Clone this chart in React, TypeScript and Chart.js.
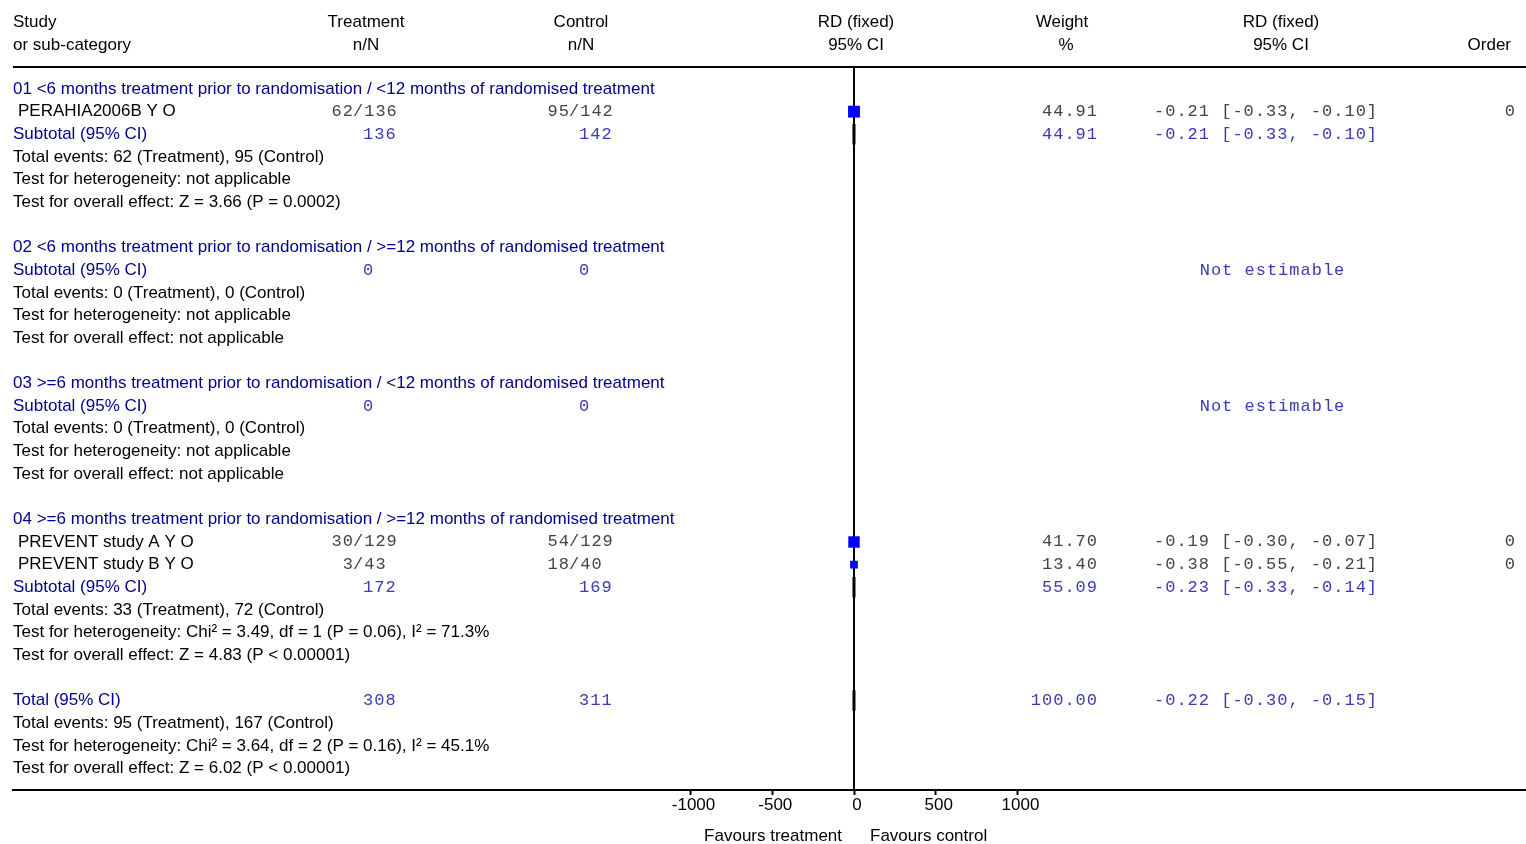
import React, { useEffect, useRef } from "react";
import { Chart, registerables } from "chart.js";

Chart.register(...registerables);

// ---------- data ----------
const groupTitles = [
  "01 <6 months treatment prior to randomisation / <12 months of randomised treatment",
  "02 <6 months treatment prior to randomisation / >=12 months of randomised treatment",
  "03 >=6 months treatment prior to randomisation / <12 months of randomised treatment",
  "04 >=6 months treatment prior to randomisation / >=12 months of randomised treatment",
];
const studyNames = ["PERAHIA2006B Y O", "PREVENT study A Y O", "PREVENT study B Y O"];
const studyGroup = [0, 3, 3];
const studyTreatEvents = [62, 30, 3];
const studyTreatTotal = [136, 129, 43];
const studyCtrlEvents = [95, 54, 18];
const studyCtrlTotal = [142, 129, 40];
const studyWeight = [44.91, 41.7, 13.4];
const studyRD = [-0.21, -0.19, -0.38];
const studyLo = [-0.33, -0.3, -0.55];
const studyHi = [-0.1, -0.07, -0.21];
const studyOrder = [0, 0, 0];

const subTreatTotal = [136, 0, 0, 172];
const subCtrlTotal = [142, 0, 0, 169];
const subWeight: (number | null)[] = [44.91, null, null, 55.09];
const subRD: (number | null)[] = [-0.21, null, null, -0.23];
const subLo: (number | null)[] = [-0.33, null, null, -0.33];
const subHi: (number | null)[] = [-0.1, null, null, -0.14];
const subEvents = [
  "Total events: 62 (Treatment), 95 (Control)",
  "Total events: 0 (Treatment), 0 (Control)",
  "Total events: 0 (Treatment), 0 (Control)",
  "Total events: 33 (Treatment), 72 (Control)",
];
const subHet = [
  "Test for heterogeneity: not applicable",
  "Test for heterogeneity: not applicable",
  "Test for heterogeneity: not applicable",
  "Test for heterogeneity: Chi² = 3.49, df = 1 (P = 0.06), I² = 71.3%",
];
const subEffect = [
  "Test for overall effect: Z = 3.66 (P = 0.0002)",
  "Test for overall effect: not applicable",
  "Test for overall effect: not applicable",
  "Test for overall effect: Z = 4.83 (P < 0.00001)",
];

const totalTreat = 308;
const totalCtrl = 311;
const totalWeight = 100.0;
const totalRD = -0.22;
const totalLo = -0.3;
const totalHi = -0.15;
const totalLines = [
  "Total events: 95 (Treatment), 167 (Control)",
  "Test for heterogeneity: Chi² = 3.64, df = 2 (P = 0.16), I² = 45.1%",
  "Test for overall effect: Z = 6.02 (P < 0.00001)",
];

const xTicks = [-1000, -500, 0, 500, 1000];
const favourLeft = "Favours treatment";
const favourRight = "Favours control";

// ---------- layout of rows ----------
type Row = { kind: string; idx: number; row: number };
function buildRows(): Row[] {
  const rows: Row[] = [];
  let r = 0;
  for (let g = 0; g < groupTitles.length; g++) {
    rows.push({ kind: "title", idx: g, row: r++ });
    studyNames.forEach((_, i) => {
      if (studyGroup[i] === g) rows.push({ kind: "study", idx: i, row: r++ });
    });
    rows.push({ kind: "sub", idx: g, row: r++ });
    rows.push({ kind: "events", idx: g, row: r++ });
    rows.push({ kind: "het", idx: g, row: r++ });
    rows.push({ kind: "effect", idx: g, row: r++ });
    r++;
  }
  rows.push({ kind: "total", idx: 0, row: r++ });
  totalLines.forEach((_, i) => rows.push({ kind: "totline", idx: i, row: r++ }));
  return rows;
}
const rows = buildRows();

const fmtCI = (e: number, lo: number, hi: number) =>
  `${e.toFixed(2)} [${lo.toFixed(2)}, ${hi.toFixed(2)}]`;

const SANS = "'Liberation Sans', Arial, sans-serif";
const MONO = "'Liberation Mono', 'Courier New', monospace";
const BLUE = "#00008b";
const MBLUE = "#3a3ab4";
const GREY = "#444444";

export default function App() {
  const ref = useRef<HTMLCanvasElement | null>(null);

  useEffect(() => {
    const canvas = ref.current;
    if (!canvas) return;

    const studyPoints = studyNames.map((_, i) => {
      const r = rows.find((o) => o.kind === "study" && o.idx === i)!.row;
      return { x: studyRD[i], y: r };
    });
    const studyRadius = studyWeight.map((w) => (6 + 0.13 * w) / Math.SQRT2);

    const textPlugin = {
      id: "forestText",
      beforeDatasetsDraw(chart: any) {
        const { ctx, chartArea, scales } = chart;
        const xs = scales.x;
        const ys = scales.y;
        ctx.save();
        ctx.strokeStyle = "#000";
        ctx.lineWidth = 2;
        ctx.beginPath();
        ctx.moveTo(chartArea.left, chartArea.top);
        ctx.lineTo(chartArea.right, chartArea.top);
        ctx.stroke();
        const x0 = Math.round(xs.getPixelForValue(0));
        ctx.beginPath();
        ctx.moveTo(x0, chartArea.top);
        ctx.lineTo(x0, chartArea.bottom);
        ctx.stroke();
        ctx.lineWidth = 1;
        studyNames.forEach((_, i) => {
          const r = rows.find((o) => o.kind === "study" && o.idx === i)!.row;
          const py = ys.getPixelForValue(r);
          ctx.beginPath();
          ctx.moveTo(xs.getPixelForValue(studyLo[i]), py);
          ctx.lineTo(xs.getPixelForValue(studyHi[i]), py);
          ctx.stroke();
        });
        const diamond = (r: number, e: number, lo: number, hi: number) => {
          ctx.beginPath();
          ctx.moveTo(xs.getPixelForValue(lo), ys.getPixelForValue(r));
          ctx.lineTo(xs.getPixelForValue(e), ys.getPixelForValue(r - 0.45));
          ctx.lineTo(xs.getPixelForValue(hi), ys.getPixelForValue(r));
          ctx.lineTo(xs.getPixelForValue(e), ys.getPixelForValue(r + 0.45));
          ctx.closePath();
          ctx.fillStyle = "#000";
          ctx.fill();
          ctx.lineWidth = 3;
          ctx.stroke();
        };
        rows.forEach((o) => {
          if (o.kind === "sub" && subRD[o.idx] !== null)
            diamond(o.row, subRD[o.idx]!, subLo[o.idx]!, subHi[o.idx]!);
          if (o.kind === "total") diamond(o.row, totalRD, totalLo, totalHi);
        });
        ctx.restore();
      },
      afterDraw(chart: any) {
        const { ctx, scales, chartArea } = chart;
        const ys = scales.y;
        const t = (s: string, x: number, y: number, align: string, font: string, color: string, ls = "0px") => {
          ctx.font = font;
          ctx.fillStyle = color;
          ctx.textAlign = align;
          ctx.textBaseline = "middle";
          (ctx as any).letterSpacing = ls;
          ctx.fillText(s, x, y);
          (ctx as any).letterSpacing = "0px";
        };
        const sans = `17px ${SANS}`;
        const mono = `17px ${MONO}`;
        const LSV = 1.0;
        const m = (s: string, x: number, y: number, align: string, color: string) => {
          const dx = align === "right" ? LSV : align === "center" ? LSV / 2 : 0;
          t(s, x + dx, y, align, mono, color, `${LSV}px`);
        };
        ctx.save();
        t("Study", 13, 22, "left", sans, "#000");
        t("or sub-category", 13, 45, "left", sans, "#000");
        t("Treatment", 366, 22, "center", sans, "#000");
        t("n/N", 366, 45, "center", sans, "#000");
        t("Control", 581, 22, "center", sans, "#000");
        t("n/N", 581, 45, "center", sans, "#000");
        t("RD (fixed)", 856, 22, "center", sans, "#000");
        t("95% CI", 856, 45, "center", sans, "#000");
        t("Weight", 1062, 22, "center", sans, "#000");
        t("%", 1066, 45, "center", sans, "#000");
        t("RD (fixed)", 1281, 22, "center", sans, "#000");
        t("95% CI", 1281, 45, "center", sans, "#000");
        t("Order", 1511, 45, "right", sans, "#000");

        const tSlash = 353;
        const cSlash = 569;
        rows.forEach((o) => {
          const y = ys.getPixelForValue(o.row);
          if (o.kind === "title") t(groupTitles[o.idx], 13, y, "left", sans, BLUE);
          else if (o.kind === "study") {
            const i = o.idx;
            t(studyNames[i], 18, y, "left", sans, "#000");
            m(String(studyTreatEvents[i]), tSlash, y, "right", GREY);
            m("/" + studyTreatTotal[i], tSlash, y, "left", GREY);
            m(String(studyCtrlEvents[i]), cSlash, y, "right", GREY);
            m("/" + studyCtrlTotal[i], cSlash, y, "left", GREY);
            m(studyWeight[i].toFixed(2), 1097, y, "right", GREY);
            m(fmtCI(studyRD[i], studyLo[i], studyHi[i]), 1154, y, "left", GREY);
            m(String(studyOrder[i]), 1515, y, "right", GREY);
          } else if (o.kind === "sub") {
            const g = o.idx;
            t("Subtotal (95% CI)", 13, y, "left", sans, BLUE);
            m(String(subTreatTotal[g]), tSlash + 10, y, "left", MBLUE);
            m(String(subCtrlTotal[g]), cSlash + 10, y, "left", MBLUE);
            if (subRD[g] !== null) {
              m(subWeight[g]!.toFixed(2), 1097, y, "right", MBLUE);
              m(fmtCI(subRD[g]!, subLo[g]!, subHi[g]!), 1154, y, "left", MBLUE);
            } else {
              m("Not estimable", 1272, y, "center", MBLUE);
            }
          } else if (o.kind === "events") t(subEvents[o.idx], 13, y, "left", sans, "#000");
          else if (o.kind === "het") t(subHet[o.idx], 13, y, "left", sans, "#000");
          else if (o.kind === "effect") t(subEffect[o.idx], 13, y, "left", sans, "#000");
          else if (o.kind === "total") {
            t("Total (95% CI)", 13, y, "left", sans, BLUE);
            m(String(totalTreat), tSlash + 10, y, "left", MBLUE);
            m(String(totalCtrl), cSlash + 10, y, "left", MBLUE);
            m(totalWeight.toFixed(2), 1097, y, "right", MBLUE);
            m(fmtCI(totalRD, totalLo, totalHi), 1154, y, "left", MBLUE);
          } else if (o.kind === "totline") t(totalLines[o.idx], 13, y, "left", sans, "#000");
        });

        const x0 = scales.x.getPixelForValue(0);
        const fy = chartArea.bottom + 46;
        t(favourLeft, x0 - 12, fy, "right", sans, "#000");
        t(favourRight, x0 + 16, fy, "left", sans, "#000");
        ctx.restore();
      },
    };

    const chart = new Chart(canvas, {
      type: "scatter",
      data: {
        datasets: [
          {
            data: studyPoints,
            pointStyle: "rect",
            pointRadius: studyRadius,
            pointHoverRadius: studyRadius,
            backgroundColor: "#0000ff",
            borderColor: "#0000ff",
            borderWidth: 0,
            clip: false,
          },
        ],
      },
      options: {
        responsive: false,
        animation: false,
        devicePixelRatio: 1,
        layout: { autoPadding: false, padding: { top: 67, left: 13, right: 0, bottom: 0 } },
        plugins: { legend: { display: false }, tooltip: { enabled: false } },
        scales: {
          x: {
            type: "linear",
            min: -5144,
            max: 4110,
            afterBuildTicks: (s: any) => {
              s.ticks = xTicks.map((v) => ({ value: v }));
            },
            afterFit: (s: any) => {
              s.height = 54;
            },
            border: { display: true, color: "#000", width: 2 },
            grid: {
              drawOnChartArea: false,
              drawTicks: true,
              tickLength: 5,
              tickColor: "#000",
              tickWidth: 2,
            },
            ticks: {
              color: "#000",
              padding: 0,
              labelOffset: 3,
              autoSkip: false,
              maxRotation: 0,
              font: { family: SANS, size: 17 },
              callback: (v: any) => String(v),
            },
          },
          y: {
            type: "linear",
            display: false,
            reverse: true,
            min: -0.971,
            max: 30.95,
          },
        },
      },
      plugins: [textPlugin],
    } as any);

    return () => chart.destroy();
  }, []);

  return (
    <div style={{ position: "absolute", left: 0, top: 0, width: 1526, height: 844, background: "#fff" }}>
      <canvas ref={ref} width={1526} height={844} />
    </div>
  );
}
